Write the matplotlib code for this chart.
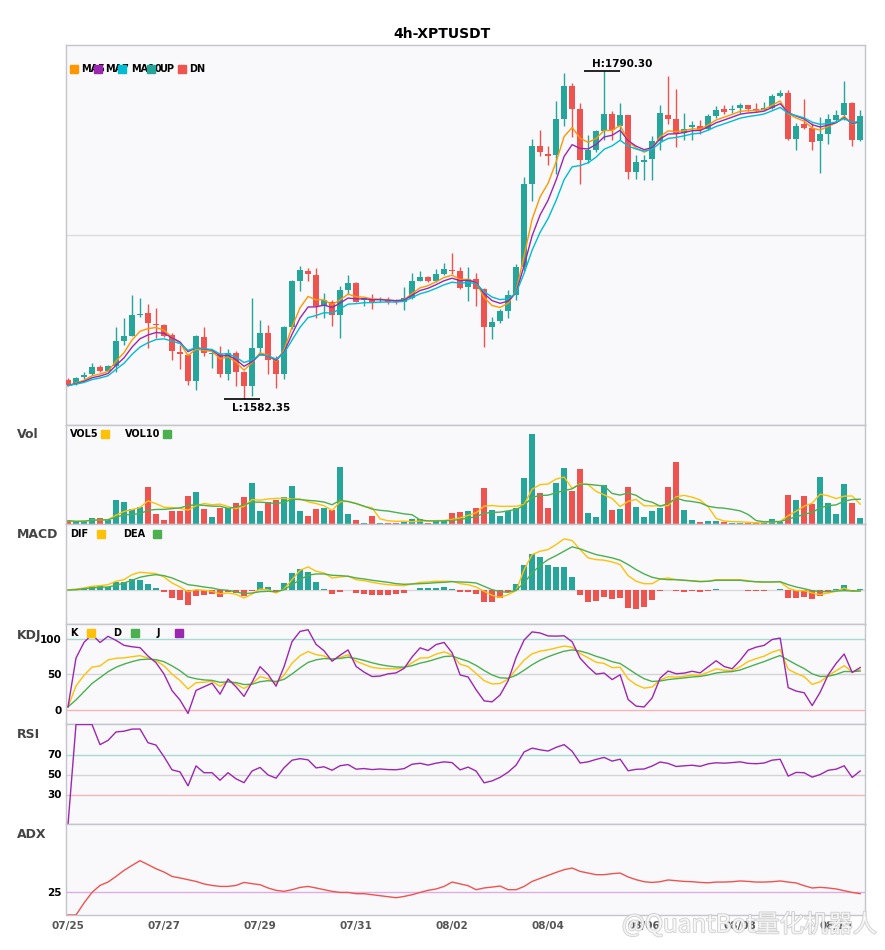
import numpy as np
import pandas as pd
import matplotlib
matplotlib.use('Agg')
import matplotlib.pyplot as plt
from matplotlib.patches import Rectangle
from matplotlib import patheffects


# 4h candles starting 07/25 00:00
opens = [1594.4, 1592.3, 1595.9, 1598.0, 1602.7, 1600.1, 1602.9, 1619.2, 1622.4, 1635.7,
         1637.0, 1629.4, 1629.4, 1622.8, 1612.2, 1609.9, 1593.8, 1621.7, 1610.7, 1610.7,
         1598.0, 1611.4, 1599.5, 1590.2, 1614.7, 1624.3, 1606.9, 1598.4, 1627.7, 1657.4,
         1663.7, 1661.2, 1641.0, 1644.0, 1635.7, 1651.6, 1655.9, 1645.1, 1645.1, 1644.9,
         1644.9, 1644.6, 1643.6, 1646.3, 1657.4, 1659.9, 1656.9, 1661.6, 1664.4, 1663.7,
         1653.1, 1658.4, 1652.1, 1627.7, 1631.5, 1637.9, 1648.5, 1665.8, 1718.4, 1742.6,
         1737.9, 1736.9, 1759.8, 1780.7, 1766.1, 1734.1, 1740.0, 1752.3, 1763.4, 1755.3,
         1762.3, 1726.3, 1732.6, 1734.3, 1745.8, 1762.3, 1759.8, 1751.1, 1754.9, 1755.7,
         1753.8, 1761.7, 1766.1, 1765.7, 1767.0, 1769.1, 1765.9, 1765.9, 1767.2, 1774.4,
         1776.7, 1747.0, 1757.0, 1754.5, 1745.8, 1750.6, 1759.1, 1762.3, 1770.1, 1746.4]
highs = [1595.5, 1595.9, 1599.5, 1605.2, 1603.9, 1603.7, 1627.7, 1633.4, 1648.4, 1646.1,
         1642.7, 1639.8, 1629.8, 1624.1, 1616.4, 1610.7, 1622.8, 1627.7, 1612.8, 1616.0,
         1613.9, 1612.4, 1600.1, 1646.1, 1632.6, 1629.4, 1609.7, 1628.7, 1658.0, 1666.9,
         1665.4, 1665.4, 1649.3, 1645.1, 1654.2, 1661.2, 1656.3, 1646.8, 1648.9, 1646.8,
         1646.8, 1645.7, 1653.5, 1662.2, 1663.3, 1660.3, 1664.6, 1668.4, 1675.2, 1666.3,
         1665.8, 1662.2, 1652.5, 1634.5, 1639.3, 1651.4, 1668.0, 1723.1, 1747.0, 1752.8,
         1742.6, 1771.2, 1789.4, 1782.9, 1770.1, 1750.0, 1753.2, 1790.3, 1764.8, 1770.1,
         1762.3, 1736.9, 1736.9, 1749.2, 1769.1, 1787.3, 1779.3, 1763.8, 1758.5, 1759.1,
         1762.9, 1768.0, 1768.7, 1768.7, 1770.1, 1769.1, 1770.1, 1770.8, 1776.1, 1778.2,
         1778.6, 1757.4, 1772.5, 1757.6, 1761.2, 1763.4, 1765.5, 1783.9, 1770.8, 1765.9]
lows = [1590.6, 1591.2, 1595.2, 1597.4, 1599.1, 1599.7, 1599.1, 1616.4, 1622.0, 1634.0,
        1614.3, 1620.7, 1621.3, 1607.1, 1601.2, 1590.8, 1588.2, 1609.2, 1602.2, 1596.5,
        1594.2, 1590.6, 1582.35, 1584.2, 1611.4, 1598.4, 1588.9, 1595.2, 1626.6, 1650.6,
        1657.4, 1633.6, 1633.4, 1628.3, 1620.7, 1648.9, 1643.6, 1641.5, 1639.3, 1643.6,
        1642.5, 1642.5, 1638.7, 1645.7, 1656.9, 1656.5, 1656.5, 1661.2, 1661.6, 1652.1,
        1644.6, 1641.5, 1615.0, 1620.3, 1630.2, 1633.6, 1645.1, 1663.7, 1707.8, 1736.2,
        1730.5, 1725.2, 1755.3, 1748.5, 1718.8, 1732.0, 1739.0, 1746.8, 1746.4, 1746.4,
        1722.0, 1722.0, 1721.4, 1721.4, 1740.0, 1757.0, 1742.2, 1746.8, 1746.8, 1750.6,
        1753.2, 1760.8, 1763.4, 1763.8, 1763.8, 1764.8, 1764.4, 1765.5, 1766.5, 1774.0,
        1746.4, 1740.0, 1753.8, 1740.0, 1725.6, 1744.3, 1758.1, 1759.1, 1742.6, 1746.0]
closes = [1590.8, 1595.5, 1597.6, 1602.7, 1600.1, 1603.3, 1619.2, 1622.4, 1635.7, 1636.4,
          1630.2, 1629.0, 1622.4, 1612.4, 1610.5, 1593.8, 1622.0, 1611.4, 1611.4, 1598.0,
          1611.4, 1599.1, 1590.2, 1614.7, 1624.3, 1606.9, 1598.4, 1627.7, 1657.4, 1664.4,
          1661.6, 1641.0, 1645.1, 1635.7, 1651.6, 1655.9, 1644.0, 1646.1, 1643.6, 1645.3,
          1644.0, 1643.6, 1646.3, 1657.4, 1659.9, 1656.9, 1661.6, 1664.8, 1663.7, 1652.7,
          1658.4, 1652.1, 1627.7, 1631.3, 1637.9, 1648.5, 1665.8, 1718.4, 1742.6, 1739.0,
          1736.4, 1759.8, 1781.0, 1766.1, 1734.1, 1740.0, 1752.3, 1762.9, 1752.8, 1762.3,
          1726.3, 1732.4, 1733.7, 1745.8, 1763.8, 1759.8, 1751.1, 1753.8, 1755.9, 1753.2,
          1761.7, 1765.5, 1764.6, 1766.5, 1768.7, 1766.1, 1765.5, 1767.2, 1774.4, 1776.7,
          1747.0, 1755.3, 1754.5, 1745.3, 1750.6, 1759.8, 1762.3, 1770.1, 1746.4, 1761.7]
volumes = [10, 6, 10, 18, 18, 13, 73, 67, 45, 51,
           112, 31, 13, 40, 40, 85, 97, 46, 22, 49,
           49, 64, 82, 124, 40, 67, 73, 82, 115, 40,
           25, 46, 49, 43, 172, 31, 13, 4, 25, 4,
           3, 4, 7, 16, 16, 2, 10, 9, 34, 37,
           40, 49, 109, 43, 25, 40, 49, 139, 271, 94,
           49, 124, 169, 100, 166, 34, 22, 118, 43, 46,
           112, 52, 22, 40, 49, 112, 187, 43, 13, 7,
           10, 10, 5, 4, 4, 3, 3, 10, 16, 7,
           88, 73, 85, 61, 142, 64, 31, 121, 64, 19]

# MACD
dif = [0, 1, 2, 3.7, 4.3, 5.3, 8.7, 10.3, 15.3, 17.7,
       17, 16.3, 13, 7, 3, -1.7, 0.3, -0.3, -1.3, -3.7,
       -3, -4.3, -8, -4, 1, 0.3, -3, 1, 10.3, 19.7,
       23, 18.7, 17, 12, 13, 13.7, 10.3, 9.3, 7.7, 6.3,
       5.3, 4.7, 4.3, 6, 7.7, 8, 8.7, 8.7, 8.7, 6.3,
       5.3, 3, -1.3, -5.3, -7.3, -4.7, -0.7, 20.3, 35.3, 38.7,
       40.3, 45.3, 51, 49.3, 40.3, 32, 30.3, 29.7, 28, 25.3,
       14.3, 8.7, 6.3, 6.3, 11, 12, 10.3, 9.7, 9.3, 8.7,
       8.7, 10.3, 10.3, 10.3, 10.3, 9.3, 8, 7.7, 8, 8,
       2, -0.7, -0.7, -3, -4.7, -3, -1.3, 2, -1.3, -1.3]
dea = [0, 0.3, 1.3, 2, 2.7, 3, 4.7, 7, 9.7, 12.7,
       14.3, 15.3, 14.3, 12, 8.7, 5.3, 4.3, 3, 2, 0.3,
       -0.3, -2, -3.7, -3, -1.7, -1.3, -1.7, 0.3, 5.3, 10.3,
       14.7, 16, 16, 14.7, 14.3, 13.7, 12, 11, 9.7, 8.7,
       7.7, 6.3, 5.7, 6, 6.3, 6.7, 7.3, 7.7, 8.3, 8,
       7.7, 7, 3.7, 0.3, -1.7, -2.3, -0.3, 7, 17, 24.7,
       30.3, 34.3, 38.7, 43, 41, 38, 35.3, 33.7, 32, 29.7,
       25.3, 20.3, 16, 12.7, 11, 10.3, 10.3, 9.7, 9, 8.3,
       8.7, 9.7, 9.7, 9.7, 9.7, 8.7, 8.3, 8, 8, 8.3,
       5.3, 3, 1.3, -0.7, -1.7, -1.7, -1, -0.7, -1, -1]
macd_hist = [0, 0.5, 1.5, 3.7, 3.7, 3, 7.7, 8.3, 11.3, 10.3,
             6.3, 2.3, -2.3, -8.3, -10.3, -15.3, -6.3, -5.3, -4.3, -7.3,
             -2.3, -3, -6, -0.5, 7.7, 3, -2.3, 6.7, 17.3, 21.3,
             18.3, 7.7, 1.3, -4.3, -1.7, -0.3, -3.3, -4.3, -5.3, -5.3,
             -5.3, -4.3, -3.3, 0.3, 2.3, 2.3, 2.3, 3.3, 1.3, -2.3,
             -2.3, -4.3, -12.3, -12.3, -8, -2.3, 6.3, 25.3, 36.3, 33.3,
             25.3, 23.3, 23.3, 13.3, -5.3, -12.3, -11.3, -7.3, -9.3, -8.3,
             -18.3, -19.3, -17.3, -10.3, -1.3, 0.2, -1.3, -2.3, -1.3, -2.3,
             -0.5, 1, 0.2, 0.2, 0.2, -0.7, -1.3, -1.3, 0.2, 1,
             -8.3, -8.3, -7.3, -9.3, -6.3, -2.3, 1, 5.3, -1.3, 1]

# ADX
adx = [0, 0, 13.2, 24.8, 32.5, 36.2, 42.4, 49, 54.5, 59.7,
       55.3, 50.9, 47.2, 42.4, 40.7, 38.8, 36.9, 34.1, 32.5, 31.4,
       31.4, 32.5, 35.8, 34.4, 33.3, 29.7, 27.1, 26, 27.8, 30.3,
       31.4, 29.7, 27.8, 26, 24.8, 24.8, 23.4, 23.4, 22.3, 21.2,
       20.1, 19, 20.4, 22.3, 24.8, 27.1, 28.6, 31.4, 36.2, 34.2,
       32.2, 27.8, 29.7, 30.7, 31.8, 27.8, 27.8, 31.4, 36.9, 40.2,
       43.5, 46.8, 49.8, 51.6, 47.9, 46.1, 44.3, 44.3, 45.4, 46.1,
       41.8, 38.8, 36.6, 35.8, 36.6, 38.5, 37.7, 36.9, 36.6, 35.8,
       35.4, 36.2, 36.2, 36.6, 37.4, 36.9, 36.2, 36.2, 36.6, 37.4,
       36.2, 35.2, 32.2, 29.7, 30.4, 29.7, 28.6, 26.7, 24.8, 23.4]

title = '4h-XPTUSDT'
start = '2021-07-25 00:00'
ma_periods = [5, 7, 10]

UP = '#26a69a'
DN = '#ef5350'
ORANGE = '#ff9800'
PURPLE = '#9c27b0'
CYAN = '#00bcd4'
YELLOW = '#ffc107'
GREEN = '#4caf50'
BG = '#f9f9fb'

df = pd.DataFrame({'open': opens, 'high': highs, 'low': lows,
                   'close': closes, 'vol': volumes})
df.index = pd.date_range(start, periods=len(df), freq='4h')
n = len(df)
x = np.arange(n)
o, h, l, c = df['open'], df['high'], df['low'], df['close']

# indicators derived from the candles
mas = [c.ewm(span=p, adjust=False).mean() for p in ma_periods]
vol5 = df['vol'].rolling(5, min_periods=1).mean()
vol10 = df['vol'].rolling(10, min_periods=1).mean()

low9 = l.rolling(9, min_periods=1).min()
high9 = h.rolling(9, min_periods=1).max()
rsv = ((c - low9) / (high9 - low9) * 100).fillna(50)
k = rsv.ewm(com=2, adjust=False).mean()
d = k.ewm(com=2, adjust=False).mean()
j = 3 * k - 2 * d

delta = c.diff().fillna(0)
gain = delta.clip(lower=0).ewm(alpha=1/14, adjust=False).mean()
loss = (-delta.clip(upper=0)).ewm(alpha=1/14, adjust=False).mean()
rsi = (100 * gain / (gain + loss)).fillna(0)

# layout
W, H = 885, 950
fig = plt.figure(figsize=(W / 100, H / 100), dpi=100)


def panel(top, bottom):
    ax = fig.add_axes([66 / W, 1 - bottom / H, 799 / W, (bottom - top) / H])
    ax.set_facecolor(BG)
    for s in ax.spines.values():
        s.set_color('#c4c4cc')
        s.set_linewidth(1)
    ax.set_xlim(-0.25, n - 0.4)
    ax.set_xticks([])
    ax.set_yticks([])
    ax.tick_params(axis='y', length=0, pad=3, labelsize=7.5)
    return ax


ax_p = panel(45, 425)
ax_v = panel(425, 524)
ax_m = panel(524, 624)
ax_k = panel(624, 724)
ax_r = panel(724, 824)
ax_a = panel(824, 915)

colors = np.where(c >= o, UP, DN)

# price
ax_p.vlines(x, l, h, colors=colors, lw=1, zorder=2)
body = np.maximum((c - o).abs(), 0.7)
ax_p.bar(x, body, bottom=np.minimum(o, c), width=0.75, color=colors, zorder=3)
for ma, col in zip(mas, [ORANGE, PURPLE, CYAN]):
    ax_p.plot(x, ma, color=col, lw=1, zorder=4)
hi_i, lo_i = int(np.argmax(highs)), int(np.argmin(lows))
rng = max(highs) - min(lows)
ax_p.set_ylim(min(lows) - 0.08 * rng, max(highs) + 0.08 * rng)
mid = (min(lows) + max(highs)) / 2
ax_p.axhline(mid, color='#dcdcdc', lw=1, zorder=1)
ax_p.hlines(highs[hi_i], hi_i - 2.5, hi_i + 2, color='black', lw=1.2, zorder=5)
ax_p.text(hi_i - 1.5, highs[hi_i] + 1.6, f'H:{highs[hi_i]:.2f}', fontsize=7.5,
          fontweight='bold', va='bottom', ha='left')
ax_p.hlines(lows[lo_i], lo_i - 2.5, lo_i + 2, color='black', lw=1.2, zorder=5)
ax_p.text(lo_i - 1.5, lows[lo_i] - 2.8, f'L:{lows[lo_i]:.2f}', fontsize=7.5,
          fontweight='bold', va='top', ha='left')

# volume
ax_v.bar(x, df['vol'], width=0.75, color=colors, zorder=2)
ax_v.plot(x, vol5, color=YELLOW, lw=1, zorder=3)
ax_v.plot(x, vol10, color=GREEN, lw=1, zorder=3)
ax_v.set_ylim(0, df['vol'].max() * 1.1)

# macd
hist = np.array(macd_hist)
ax_m.axhline(0, color='#d8d8d8', lw=1, zorder=1)
ax_m.bar(x, hist, width=0.75, color=np.where(hist >= 0, UP, DN), zorder=2)
ax_m.plot(x, dif, color=YELLOW, lw=1, zorder=3)
ax_m.plot(x, dea, color=GREEN, lw=1, zorder=3)
top = max(max(dif), max(dea), hist.max()) * 1.29
ax_m.set_ylim(-top * 34 / 66, top)

# kdj
for lvl, col in [(100, '#a6dad3'), (50, '#d4d4d4'), (0, '#f6b4b4')]:
    ax_k.axhline(lvl, color=col, lw=1, zorder=1)
ax_k.plot(x, k, color=YELLOW, lw=1, zorder=3)
ax_k.plot(x, d, color=GREEN, lw=1, zorder=3)
ax_k.plot(x, j, color=PURPLE, lw=1, zorder=3)
ax_k.set_ylim(-20, 120.7)
ax_k.set_yticks([0, 50, 100])

# rsi
for lvl, col in [(70, '#a6dad3'), (50, '#d4d4d4'), (30, '#f6b4b4')]:
    ax_r.axhline(lvl, color=col, lw=1, zorder=1)
ax_r.plot(x, rsi, color=PURPLE, lw=1, zorder=3)
ax_r.set_ylim(0.5, 100.5)
ax_r.set_yticks([30, 50, 70])

# adx
ax_a.axhline(25, color='#dcaee3', lw=1, zorder=1)
ax_a.plot(x, adx, color=DN, lw=1, zorder=3)
ax_a.set_ylim(0, 100)
ax_a.set_yticks([25])

for ax in [ax_k, ax_r, ax_a]:
    for t in ax.get_yticklabels():
        t.set_fontweight('bold')

ticks = list(range(0, n, 12))
ax_a.set_xticks(ticks)
ax_a.set_xticklabels([df.index[i].strftime('%m/%d') for i in ticks],
                     fontsize=7.5, fontweight='bold', color='#555555')
ax_a.tick_params(axis='x', length=0, pad=4)

# overlay for titles and legends, in pixel units
ov = fig.add_axes([0, 0, 1, 1], zorder=10)
ov.set_xlim(0, W)
ov.set_ylim(H, 0)
ov.axis('off')

ov.text(W / 2, 34, title, fontsize=10, fontweight='bold', ha='center', va='center')
for name, yy in [('Vol', 435), ('MACD', 535), ('KDJ', 635), ('RSI', 735), ('ADX', 835)]:
    ov.text(17, yy, name, fontsize=9, fontweight='bold', color='#444444',
            ha='left', va='center')


def square(xx, yy, col):
    ov.add_patch(Rectangle((xx, yy - 4), 8, 8, color=col, zorder=5))


def label(xx, yy, s):
    ov.text(xx, yy, s, fontsize=7, fontweight='bold', ha='left', va='center', zorder=3)


for s, col, sx, tx in [('MA5', ORANGE, 70, 81), ('MA7', PURPLE, 94, 105),
                       ('MA10', CYAN, 118, 131), ('UP', UP, 147, 159), ('DN', DN, 178, 189)]:
    square(sx, 69, col)
    label(tx, 69, s)
for yy, items in [(434, [('VOL5', YELLOW, 70, 101), ('VOL10', GREEN, 125, 163)]),
                  (534, [('DIF', YELLOW, 70, 97), ('DEA', GREEN, 123, 153)]),
                  (633, [('K', YELLOW, 70, 87), ('D', GREEN, 113, 131), ('J', PURPLE, 157, 175)])]:
    for s, col, tx, sx in items:
        label(tx, yy, s)
        square(sx, yy, col)

wm = ov.text(622, 925, '@QuantBot量化机器人', fontsize=17.5, color='white',
             family=['Noto Sans CJK SC', 'DejaVu Sans'], ha='left', va='center', alpha=0.75)
wm.set_path_effects([patheffects.withStroke(linewidth=1.3, foreground='#c4c4c4')])

fig.savefig('out.png', dpi=100, facecolor='white')
